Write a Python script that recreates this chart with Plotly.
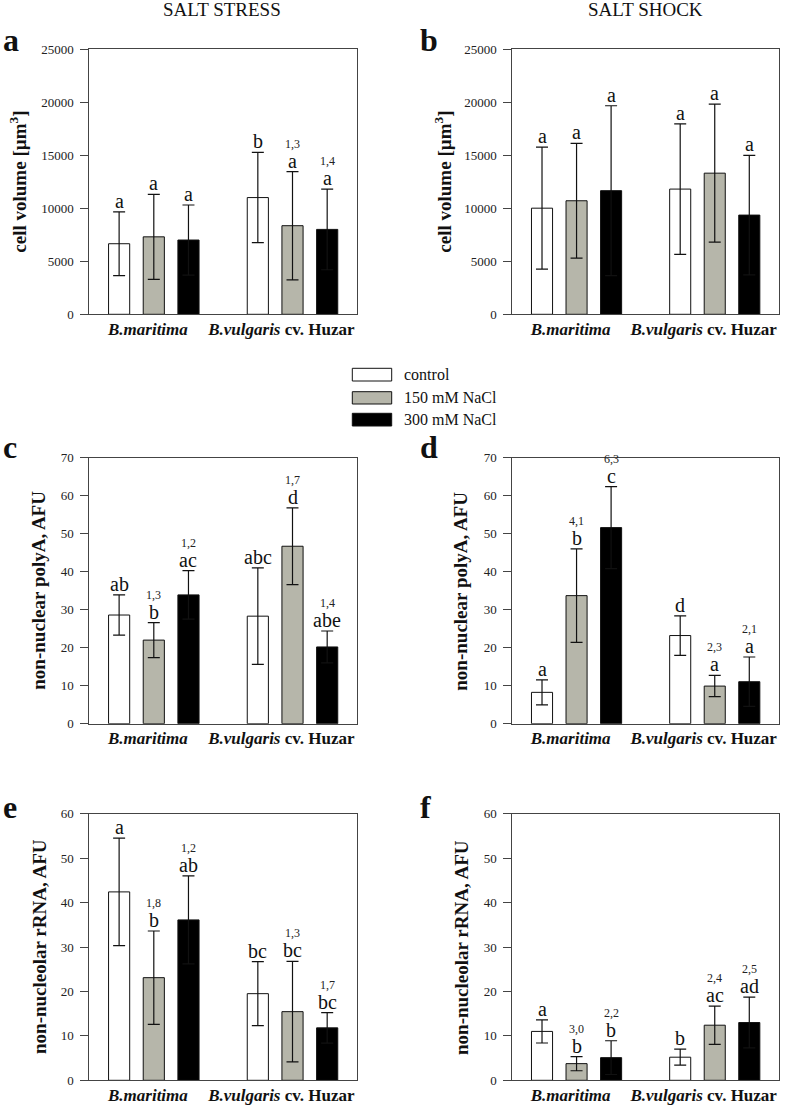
import plotly.graph_objects as go

W, H = 787, 1105
FONT = "Liberation Serif, Times New Roman, serif"

# ---------------- data ----------------
groups = ["<b><i>B.maritima</i></b>", "<b><i>B.vulgaris</i> cv. Huzar</b>"]
treatments = ["control", "150 mM NaCl", "300 mM NaCl"]
colors = ["#ffffff", "#b6b6aa", "#000000"]

# order: B.maritima (control, 150, 300), B.vulgaris (control, 150, 300)
a_vals = [6650, 7300, 7000, 11000, 8350, 8000]
a_err = [3000, 4000, 3300, 4250, 5100, 3800]
a_letters = ["a", "a", "a", "b", "a", "a"]
a_sup = ["", "", "", "", "1,3", "1,4"]

b_vals = [10000, 10700, 11650, 11800, 13300, 9350]
b_err = [5750, 5400, 8000, 6150, 6500, 5630]
b_letters = ["a", "a", "a", "a", "a", "a"]
b_sup = ["", "", "", "", "", ""]

c_vals = [28.6, 22.0, 33.9, 28.3, 46.7, 20.2]
c_err = [5.3, 4.6, 6.4, 12.7, 10.1, 4.2]
c_letters = ["ab", "b", "ac", "abc", "d", "abe"]
c_sup = ["", "1,3", "1,2", "", "1,7", "1,4"]

d_vals = [8.25, 33.7, 51.6, 23.2, 9.9, 11.05]
d_err = [3.3, 12.3, 10.8, 5.2, 2.8, 6.5]
d_letters = ["a", "b", "c", "d", "a", "a"]
d_sup = ["", "4,1", "6,3", "", "2,3", "2,1"]

e_vals = [42.4, 23.1, 36.1, 19.5, 15.45, 11.8]
e_err = [12.1, 10.5, 9.9, 7.2, 11.3, 3.45]
e_letters = ["a", "b", "ab", "bc", "bc", "bc"]
e_sup = ["", "1,8", "1,2", "", "1,3", "1,7"]

f_vals = [11.0, 3.75, 5.1, 5.2, 12.4, 13.0]
f_err = [2.6, 1.6, 3.8, 1.8, 4.3, 5.7]
f_letters = ["a", "b", "b", "b", "ac", "ad"]
f_sup = ["", "3,0", "2,2", "", "2,4", "2,5"]

y_titles = ["cell volume [µm<sup>3</sup>]", "non-nuclear polyA, AFU", "non-nucleolar rRNA, AFU"]
y_max = [25000, 70, 60]
y_dtick = [5000, 10, 10]
col_titles = ["SALT STRESS", "SALT SHOCK"]

panels = [
    ("a", a_vals, a_err, a_letters, a_sup),
    ("b", b_vals, b_err, b_letters, b_sup),
    ("c", c_vals, c_err, c_letters, c_sup),
    ("d", d_vals, d_err, d_letters, d_sup),
    ("e", e_vals, e_err, e_letters, e_sup),
    ("f", f_vals, f_err, f_letters, f_sup),
]

# ---------------- layout geometry (px) ----------------
cols_px = [(89.3, 357.0), (512.3, 779.0)]
rows_px = [(49.0, 314.3), (457.7, 723.7), (813.7, 1080.3)]
ytitle_x = [[18, 443], [39, 461], [39, 461]]
letter_x = [1, 418]
row_letter_base = [51.7, 458.5, 818.5]
group_label_x = [0.83, 4.68]


def px(x):
    return x / W


def py(y):
    return 1 - y / H


fig = go.Figure()
annotations = []
shapes = []
layout_axes = {}

for i, (pid, vals, err, letters, sups) in enumerate(panels):
    r, c = i // 2, i % 2
    n = "" if i == 0 else str(i + 1)
    xa, ya = "x" + n, "y" + n
    for t in range(3):
        idx = [g * 3 + t for g in range(2)]
        fig.add_trace(go.Bar(
            x=[g * 4 + t for g in range(2)],
            y=[vals[k] for k in idx],
            error_y=dict(type="data", array=[err[k] for k in idx], color="#111",
                         thickness=1.2, width=6),
            marker=dict(color=colors[t], line=dict(color="#111", width=1)),
            width=0.61, name=treatments[t], showlegend=False,
            xaxis=xa, yaxis=ya, cliponaxis=False,
        ))
    # significance letters
    for k in range(6):
        g, t = k // 3, k % 3
        xv = g * 4 + t
        top = vals[k] + err[k]
        annotations.append(dict(x=xv, y=top, xref=xa, yref=ya, text=letters[k],
                                showarrow=False, yanchor="bottom", yshift=-2,
                                font=dict(family=FONT, size=20, color="#111")))
        if sups[k]:
            annotations.append(dict(x=xv, y=top, xref=xa, yref=ya, text=sups[k],
                                    showarrow=False, yanchor="bottom", yshift=19,
                                    font=dict(family=FONT, size=12, color="#222")))
    x0, x1 = cols_px[c]
    y0, y1 = rows_px[r]
    layout_axes["xaxis" + n] = dict(
        domain=[px(x0), px(x1)], anchor=ya, range=[-0.86, 6.86], automargin=False,
        showline=True, mirror=True, linecolor="#444", linewidth=1,
        showgrid=False, zeroline=False, ticks="", ticklen=0,
        tickvals=group_label_x, ticktext=groups, ticklabelstandoff=-1,
        tickfont=dict(family=FONT, size=17, color="#111"),
    )
    layout_axes["yaxis" + n] = dict(
        domain=[py(y1), py(y0)], anchor=xa, range=[0, y_max[r]], dtick=y_dtick[r],
        tickformat="d", automargin=False,
        showline=True, mirror=True, linecolor="#444", linewidth=1,
        showgrid=False, zeroline=False, ticks="outside", ticklen=8, tickcolor="#444",
        ticklabelstandoff=4,
        tickfont=dict(family=FONT, size=13, color="#222"),
    )
    # y title
    annotations.append(dict(x=px(ytitle_x[r][c]),
                            y=py((y0 + y1) / 2), xref="paper", yref="paper",
                            text="<b>" + y_titles[r] + "</b>", textangle=-90,
                            showarrow=False, xanchor="center", yanchor="middle",
                            font=dict(family=FONT, size=19, color="#111")))
    # panel letter
    base = row_letter_base[r]
    annotations.append(dict(x=px(letter_x[c]), y=py(base + 8), xref="paper", yref="paper",
                            text="<b>" + pid + "</b>", showarrow=False,
                            xanchor="left", yanchor="bottom",
                            font=dict(family=FONT, size=32, color="#111")))

# column titles
for c, title in enumerate(col_titles):
    annotations.append(dict(x=px([221.7, 645][c]), y=py(-3), xref="paper", yref="paper",
                            text=title, showarrow=False, xanchor="center", yanchor="top",
                            font=dict(family=FONT, size=19, color="#111")))

# legend
leg_y = [(368.3, 381.0), (391.7, 404.0), (413.3, 426.0)]
for t in range(3):
    ya0, ya1 = leg_y[t]
    shapes.append(dict(type="rect", xref="paper", yref="paper",
                       x0=px(352.3), x1=px(391.7), y0=py(ya1), y1=py(ya0),
                       fillcolor=colors[t], line=dict(color="#111", width=1)))
    annotations.append(dict(x=px(401.7), y=py((ya0 + ya1) / 2), xref="paper", yref="paper",
                            text=treatments[t], showarrow=False, xanchor="left",
                            yanchor="middle",
                            font=dict(family=FONT, size=16, color="#111")))

fig.update_layout(
    width=W, height=H, margin=dict(l=0, r=0, t=0, b=0, pad=0, autoexpand=False),
    paper_bgcolor="white", plot_bgcolor="white", barmode="overlay",
    showlegend=False, annotations=annotations, shapes=shapes,
    font=dict(family=FONT, color="#111"),
    **layout_axes,
)

fig.write_html("out.html", config={"displayModeBar": False},
               post_script="document.body.style.margin='0';document.body.style.overflow='hidden';")
